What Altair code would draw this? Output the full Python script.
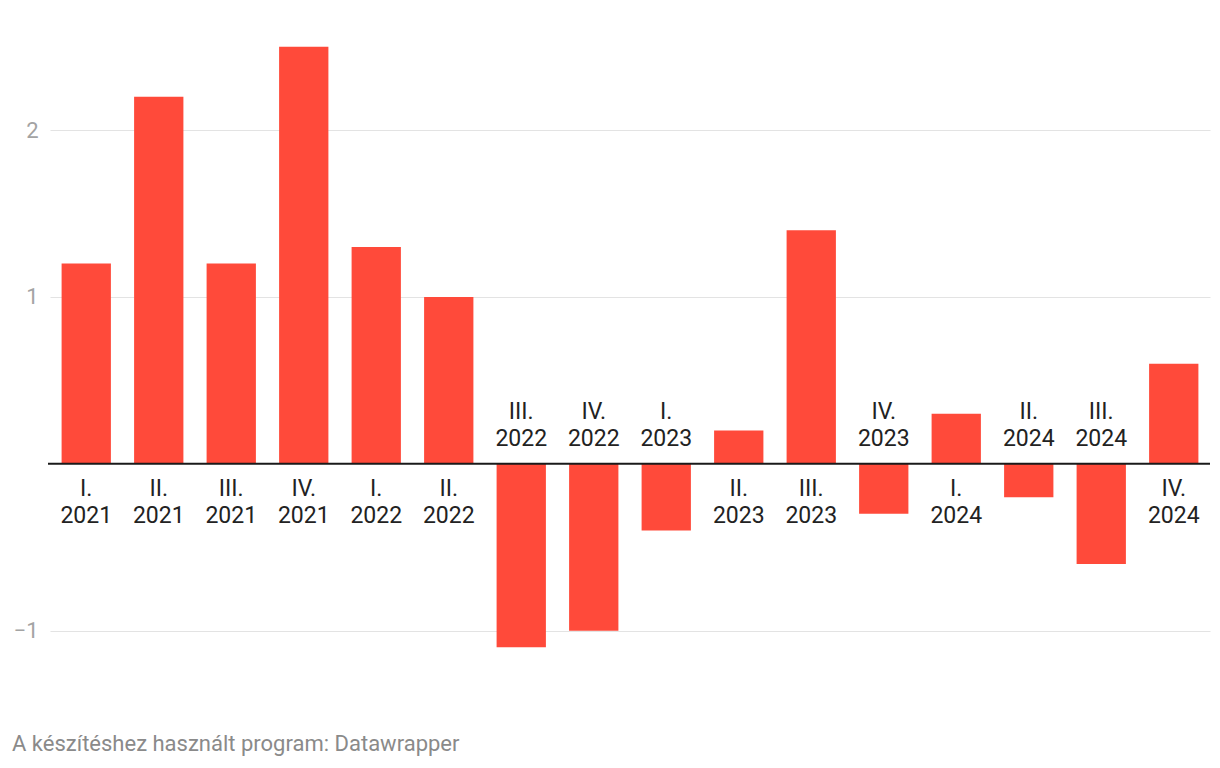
import altair as alt
import pandas as pd

quarters = ["I.", "II.", "III.", "IV.", "I.", "II.", "III.", "IV.",
            "I.", "II.", "III.", "IV.", "I.", "II.", "III.", "IV."]
years = ["2021"] * 4 + ["2022"] * 4 + ["2023"] * 4 + ["2024"] * 4
values = [1.2, 2.2, 1.2, 2.5, 1.3, 1.0, -1.1, -1.0,
          -0.4, 0.2, 1.4, -0.3, 0.3, -0.2, -0.6, 0.6]
y_ticks = [-1, 1, 2]
footer = "A készítéshez használt program: Datawrapper"

df = pd.DataFrame({"q": quarters, "yr": years, "v": values})
df["key"] = df["q"] + " " + df["yr"]
df["label"] = df["q"] + "\n" + df["yr"]
keys = list(df["key"])

W, H = 1160, 634
font = "Roboto"

x = alt.X("key:N", sort=None, axis=None,
          scale=alt.Scale(domain=keys, paddingInner=0.32, paddingOuter=0.16))
yscale = alt.Scale(domain=[-1.2, 2.6], nice=False, zero=False)

base = alt.Chart(df)

bars = base.mark_bar(color="#ff4a3a").encode(
    x=x,
    y=alt.Y("v:Q", scale=yscale,
            axis=alt.Axis(values=y_ticks, format="d", grid=True, gridColor="#e3e3e3",
                          gridWidth=1, domain=False, ticks=False, labelFontSize=22,
                          labelColor="#a3a3a3", labelFont=font, labelPadding=12,
                          title=None)),
    y2=alt.datum(0),
)

pos_labels = base.transform_filter("datum.v >= 0").mark_text(
    baseline="top", align="center", dy=14, fontSize=23, font=font,
    color="#222222", lineBreak="\n", lineHeight=27
).encode(x=x, y=alt.datum(0, scale=yscale), text="label:N")

neg_labels = base.transform_filter("datum.v < 0").mark_text(
    baseline="bottom", align="center", dy=-40, fontSize=23, font=font,
    color="#222222", lineBreak="\n", lineHeight=27
).encode(x=x, y=alt.datum(0, scale=yscale), text="label:N")

zero_rule = alt.Chart(pd.DataFrame({"z": [0]})).mark_rule(
    color="#1a1a1a", strokeWidth=2
).encode(y=alt.Y("z:Q", scale=yscale), x=alt.value(-2), x2=alt.value(W))

foot = alt.Chart(pd.DataFrame({"t": [footer]})).mark_text(
    align="left", baseline="alphabetic", fontSize=22, font=font, color="#8a8a8a"
).encode(x=alt.value(-38), y=alt.value(721), text="t:N")

chart = alt.layer(bars, zero_rule, pos_labels, neg_labels, foot).properties(
    width=W, height=H,
    autosize=alt.AutoSizeParams(type="none"),
    padding={"left": 42, "top": 22, "right": 2, "bottom": 104},
).configure_view(stroke=None)

chart.save("out.html", embed_options={"renderer": "svg", "actions": False})
